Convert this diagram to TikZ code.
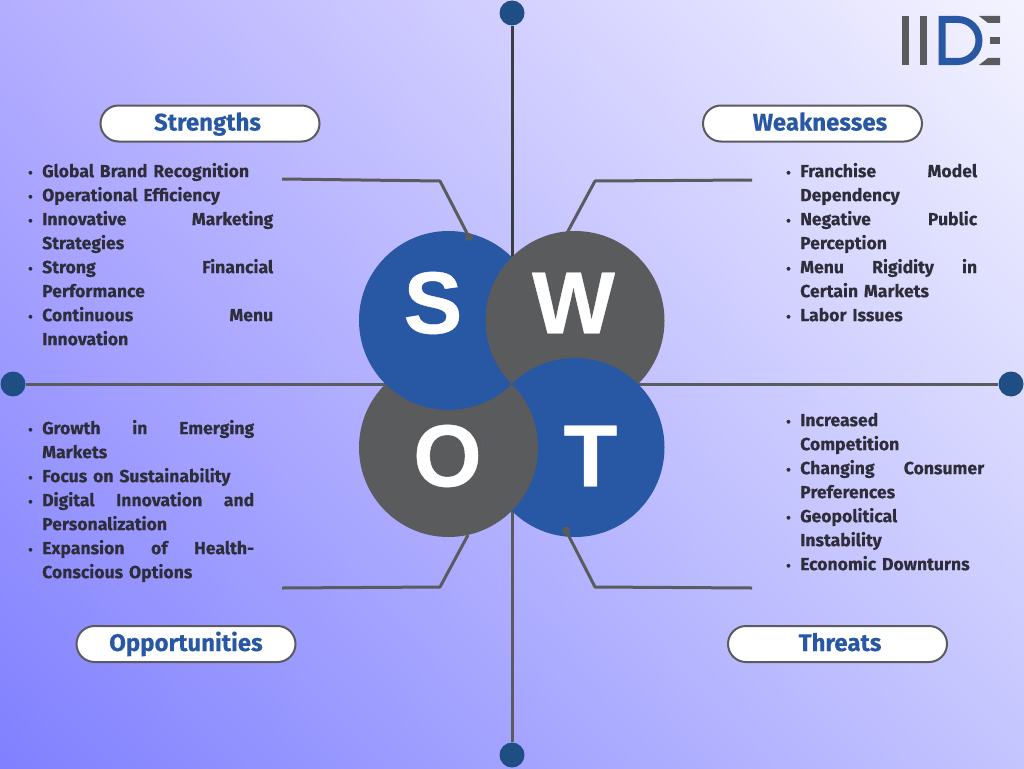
\documentclass[tikz,border=0pt]{standalone}
\usepackage{fontspec}
\setmainfont{Fira Sans}[BoldFont={Fira Sans Bold},BoldFeatures={FakeBold=0.25}]
\newfontfamily\letterfont{Liberation Sans}[BoldFont={Liberation Sans Bold},BoldFeatures={FakeBold=0.5}]
\usetikzlibrary{shadings}
\definecolor{swotblue}{HTML}{2857A4}
\definecolor{swotgrey}{HTML}{5A5B5D}
\definecolor{swotdark}{HTML}{3C3D40}
\definecolor{swotink}{HTML}{2E2E3A}
\definecolor{swotnavy}{HTML}{1F4E85}
\definecolor{bglow}{HTML}{8080FF}
\definecolor{bghigh}{HTML}{F4F4FF}
\definecolor{bgmidA}{HTML}{B4AEFF}
\definecolor{bgmidB}{HTML}{C4C4FF}
\newcommand{\jl}[1]{\par\hbox to \linewidth{#1}}
\newcommand{\bl}[1]{\par\hbox to \linewidth{\llap{\fontsize{13}{13}\selectfont\textbullet\hspace{9.5pt}}#1}}
\tikzset{
  x=1pt,y=-1pt,
  axisline/.style={line width=3pt,draw=swotgrey},
  leader/.style={line width=3pt,draw=swotgrey,line join=round},
  enddot/.style={circle,fill=swotnavy,draw=none,minimum size=25pt,inner sep=0pt},
  smalldot/.style={circle,fill=swotgrey,draw=none,minimum size=8pt,inner sep=0pt},
  bigcircle/.style={circle,draw=none,minimum size=179pt,inner sep=0pt},
  letter/.style={font=\letterfont\bfseries\fontsize{88}{88}\selectfont,text=white,inner sep=0pt},
  pill/.style={draw=swotgrey,line width=2pt,fill=white,rounded corners=18pt,minimum width=219pt,minimum height=36pt,inner sep=0pt,text height=17pt,text depth=3pt,text=swotblue,font=\bfseries\fontsize{24}{26}\selectfont},
  listbox/.style={anchor=north west,inner sep=0pt,text=swotink,font=\bfseries\fontsize{17.6}{24}\selectfont},
}
\begin{document}
\begin{tikzpicture}
\useasboundingbox (0,0) rectangle (1024,768);
\shade[lower left=bglow,upper right=bghigh,upper left=bgmidA,lower right=bgmidB] (0,0) rectangle (1024,768);

% end dots of the axes
\node[enddot] (top) at (512,13) {};
\node[enddot] (bottom) at (512,755) {};
\node[enddot] (left) at (13,384) {};
\node[enddot] (right) at (1011,384) {};
\coordinate (mid) at (512,384);
\draw[line width=3pt,draw=swotdark] (top) -- (mid);
\draw[axisline] (mid) -- (bottom);
\draw[axisline] (left) -- (right);

% leader coordinates
\coordinate (sfree) at (282,179);
\coordinate (sbend) at (440,181);
\coordinate (wfree) at (752,180);
\coordinate (wbend) at (595,181);
\coordinate (wend) at (567,233);
\coordinate (ofree) at (282,588);
\coordinate (obend) at (440,587);
\coordinate (oend) at (468,535);
\coordinate (tfree) at (752,588);
\coordinate (tbend) at (595,587);
\draw[leader] (wfree) -- (wbend) -- (wend);
\draw[leader] (ofree) -- (obend) -- (oend);

% circles (each one overlaps the next, closing the ring)
\node[bigcircle,fill=swotgrey] (ocircle) at (448.5,447.5) {};
\node[bigcircle,fill=swotblue] (scircle) at (448.5,320.5) {};
\node[bigcircle,fill=swotgrey] (wcircle) at (575,320.5) {};
\node[bigcircle,fill=swotblue] (tcircle) at (575,447.5) {};
\begin{scope}
  \clip (575,447.5) circle[radius=89.5];
  \fill[swotgrey] (448.5,447.5) circle[radius=89.5];
\end{scope}

\node[smalldot] (sdot) at (469,237) {};
\node[smalldot] (tdot) at (566,530.5) {};
\draw[leader] (sfree) -- (sbend) -- (sdot.center);
\draw[leader] (tfree) -- (tbend) -- (tdot.center);

\node[letter] (sletter) at (433,303) {S};
\node[letter] (wletter) at (573.5,303) {W};
\node[letter] (oletter) at (447.5,456) {O};
\node[letter] (tletter) at (590.5,456) {T};

% headings
\node[pill] (strengths) at (210,123.5) {\hspace*{-5pt}Strengths};
\node[pill] (weaknesses) at (812.5,123.5) {\hspace*{15pt}Weaknesses};
\node[pill] (opportunities) at (186,644) {Opportunities};
\node[pill] (threats) at (837.5,644) {\hspace*{5pt}Threats};

% lists
\node[listbox,text width=231pt] (slist) at (42,153) {\bl{Global Brand Recognition\hfill}\bl{Operational Efficiency\hfill}\bl{Innovative\hfill Marketing}\jl{Strategies\hfill}\bl{Strong\hfill Financial}\jl{Performance\hfill}\bl{Continuous\hfill Menu}\jl{Innovation\hfill}};
\node[listbox,text width=177pt] (wlist) at (800,153) {\bl{Franchise\hfill Model}\jl{Dependency\hfill}\bl{Negative\hfill Public}\jl{Perception\hfill}\bl{Menu\hfill Rigidity\hfill in}\jl{Certain Markets\hfill}\bl{Labor Issues\hfill}};
\node[listbox,text width=212pt] (olist) at (42,410) {\bl{Growth\hfill in\hfill Emerging}\jl{Markets\hfill}\bl{Focus on Sustainability\hfill}\bl{Digital\hfill Innovation\hfill and}\jl{Personalization\hfill}\bl{Expansion\hfill of\hfill Health-}\jl{Conscious Options\hfill}};
\node[listbox,text width=184pt] (tlist) at (800,402) {\bl{Increased\hfill}\jl{Competition\hfill}\bl{Changing\hfill Consumer}\jl{Preferences\hfill}\bl{Geopolitical\hfill}\jl{Instability\hfill}\bl{Economic Downturns\hfill}};

% logo
\fill[swotgrey] (902,16) rectangle (908.5,65);
\fill[swotgrey] (920,16) rectangle (927,65);
\fill[swotblue,even odd rule] (938.5,16) -- (958,16) arc[start angle=-90,end angle=90,radius=24.5] -- (938.5,65) -- cycle
  (945.5,23) -- (945.5,58) -- (958,58) arc[start angle=90,end angle=-90,radius=17.5] -- cycle;
\fill[swotgrey] (979,16) -- (1000,16) -- (1000,23) -- (988,23) -- cycle;
\fill[swotgrey] (990,37) rectangle (1000,44.5);
\fill[swotgrey] (988,58) -- (1000,58) -- (1000,65) -- (979,65) -- cycle;
\end{tikzpicture}
\end{document}
